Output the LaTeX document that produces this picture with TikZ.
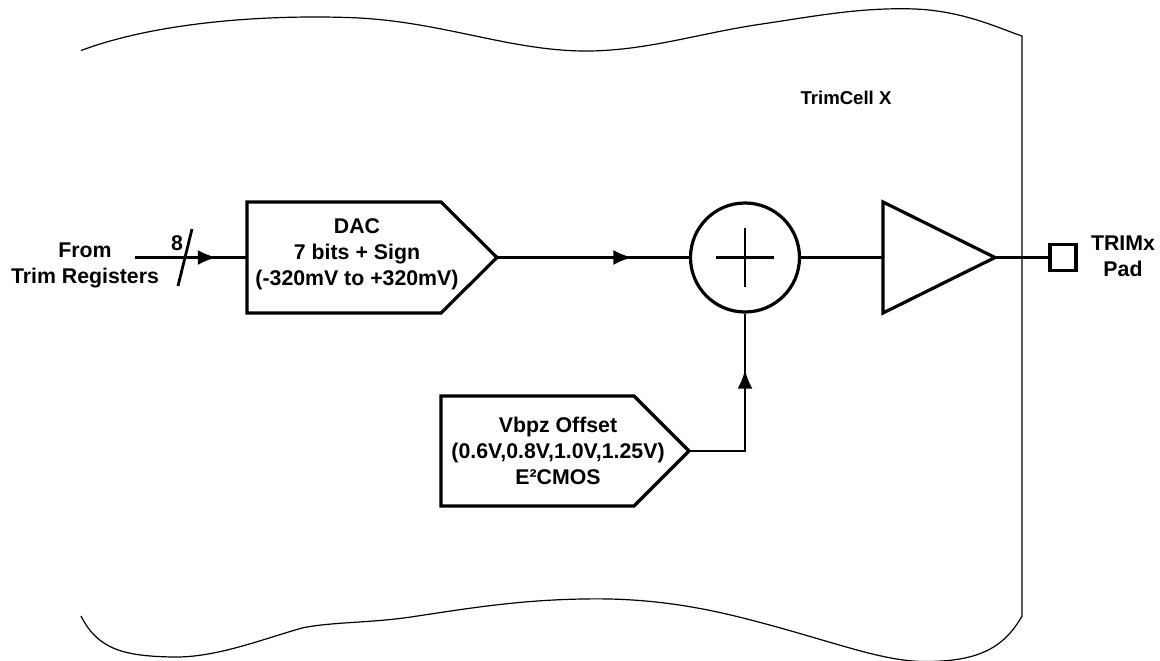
\documentclass[tikz,border=0pt]{standalone}
\usepackage{fontspec}
\setmainfont{Liberation Sans}
\usetikzlibrary{arrows.meta,decorations.markings}
\tikzset{
  wire/.style={line width=2.8pt,line join=miter,black},
  shapeline/.style={line width=3.2pt,line join=miter,black},
  outline/.style={line width=1.2pt,black},
  lbl/.style={font=\fontsize{21.3}{26}\selectfont\bfseries,align=center,inner sep=0pt},
  midarrow/.style={postaction={decorate},decoration={markings,mark=at position #1 with {\arrow{Latex[length=19pt,width=15pt]}}}}
}
\begin{document}
\begin{tikzpicture}[x=1pt,y=-1pt]
\useasboundingbox (0,0) rectangle (1160,661);
% cell outline
\coordinate (tl) at (81,50.5);
\coordinate (tr) at (1022,36);
\coordinate (bl) at (81,616);
\coordinate (br) at (1022,616);
\draw[outline] (tl) .. controls (160,21) and (270,15) .. (347,17.5)
  .. controls (440,20) and (510,52) .. (590,51)
  .. controls (650,50) and (700,33) .. (762,24)
  .. controls (810,17) and (860,7) .. (915,9)
  .. controls (965,11) and (1003,30) .. (tr) -- (br)
  .. controls (1003,650) and (975,661.5) .. (925,661.5)
  .. controls (880,661.5) and (830,640) .. (743,618)
  .. controls (680,602) and (630,598) .. (583,599)
  .. controls (520,600) and (470,608) .. (411,617)
  .. controls (370,623) and (330,622) .. (302,628)
  .. controls (260,640) and (215,658) .. (172,657)
  .. controls (125,656) and (98,650) .. (bl);
% blocks
\coordinate (dacNW) at (247,202);
\coordinate (dacN) at (441,202);
\coordinate (dacTip) at (497,257.5);
\coordinate (dacS) at (441,313);
\coordinate (dacSW) at (247,313);
\coordinate (dacW) at (247,257.5);
\draw[shapeline] (dacNW) -- (dacN) -- (dacTip) -- (dacS) -- (dacSW) -- cycle;
\node[lbl] (dactext) at (357,254) {DAC\\7 bits + Sign\\(-320mV to +320mV)};
\coordinate (vbNW) at (441,396);
\coordinate (vbN) at (634,396);
\coordinate (vbTip) at (689,451);
\coordinate (vbS) at (634,506);
\coordinate (vbSW) at (441,506);
\draw[shapeline] (vbNW) -- (vbN) -- (vbTip) -- (vbS) -- (vbSW) -- cycle;
\node[lbl] (vbtext) at (558,451) {Vbpz Offset\\(0.6V,0.8V,1.0V,1.25V)\\E²CMOS};
\node[circle,draw,line width=3.2pt,minimum size=109pt,inner sep=0pt] (sum) at (745,257.5) {};
\draw[line width=2.8pt] (716,257.5) -- (774,257.5) (745,228) -- (745,287);
\coordinate (ampW) at (883,257.5);
\coordinate (ampN) at (883,202);
\coordinate (ampS) at (883,313);
\coordinate (ampTip) at (995,257.5);
\draw[shapeline] (ampN) -- (ampTip) -- (ampS) -- cycle;
\node[rectangle,draw,line width=3.2pt,minimum size=26pt,inner sep=0pt] (pad) at (1063,257.5) {};
% connectors
\coordinate (input) at (135,257.5);
\draw[wire,midarrow=0.73] (input) -- (dacW);
\draw[wire,midarrow=0.705] (dacTip) -- (sum.west);
\draw[wire] (sum.east) -- (ampW);
\draw[wire] (ampTip) -- (pad.west);
\draw[wire,midarrow=0.71] (vbTip) -| (sum.south);
\coordinate (slashA) at (178,286);
\coordinate (slashB) at (192,229);
\draw[line width=2.8pt] (slashA) -- (slashB);
% labels
\node[lbl] (busw) at (177,243.5) {8};
\node[lbl] (from) at (85,265) {From\\Trim Registers};
\node[lbl] (padtext) at (1123,256) {TRIMx\\Pad};
\node[font=\fontsize{18.6}{20}\selectfont\bfseries,inner sep=0pt] (cell) at (846,98) {TrimCell X};
\end{tikzpicture}
\end{document}
